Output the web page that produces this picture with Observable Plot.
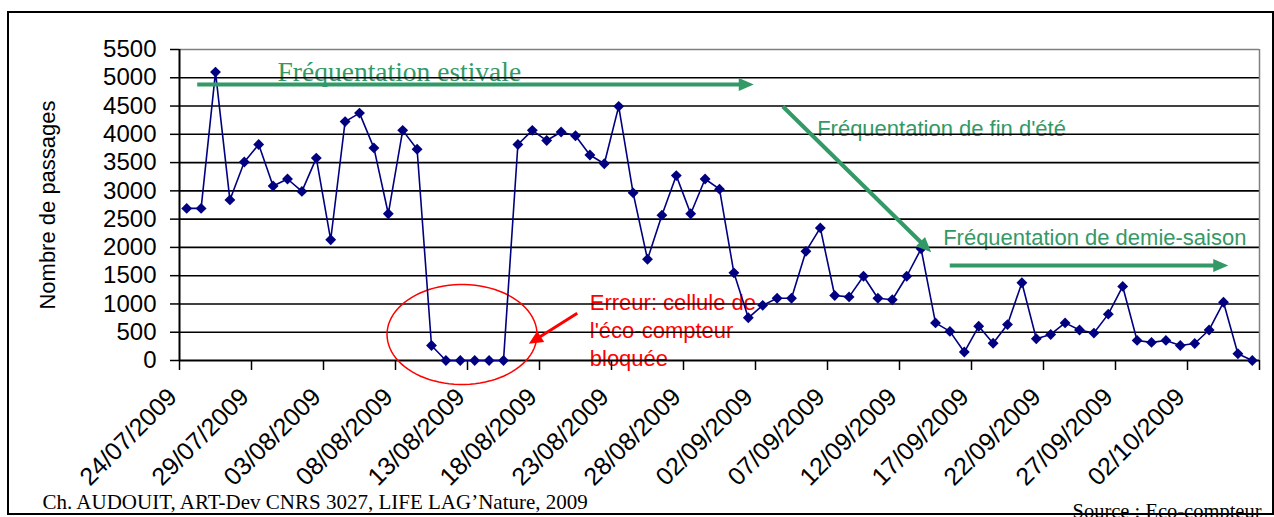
<!DOCTYPE html>
<html><head><meta charset="utf-8">
<script src="https://cdn.jsdelivr.net/npm/d3@7"></script>
<script src="https://cdn.jsdelivr.net/npm/@observablehq/plot@0.6"></script>
<style>
html,body{margin:0;padding:0;background:#fff;}
#wrap{position:relative;width:1274px;height:517px;overflow:hidden;background:#fff;}
#border{position:absolute;left:7px;top:11px;width:1267px;height:504px;box-sizing:border-box;border:2px solid #000;pointer-events:none;}
</style></head><body>
<div id="wrap"><div id="chart"></div><div id="border"></div></div>
<script>
// Daily counts, 24/07/2009 -> 06/10/2009 (75 days)
const passages = [
  2690, 2690, 5100, 2840, 3510, 3820, 3085, 3210, 2990, 3580,
  2135, 4225, 4375, 3760, 2595, 4070, 3735, 265, 0, 0,
  0, 0, 0, 3820, 4070, 3890, 4040, 3975, 3635, 3480,
  4495, 2965, 1790, 2570, 3270, 2595, 3210, 3030, 1550, 755,
  975, 1100, 1100, 1930, 2345, 1150, 1125, 1490, 1100, 1075,
  1490, 1975, 665, 515, 150, 605, 305, 635, 1375, 385,
  460, 665, 540, 485, 820, 1310, 355, 320, 355, 265,
  300, 540, 1030, 120, 0
];
const dateLabels = ["24/07/2009","29/07/2009","03/08/2009","08/08/2009","13/08/2009","18/08/2009","23/08/2009","28/08/2009","02/09/2009","07/09/2009","12/09/2009","17/09/2009","22/09/2009","27/09/2009","02/10/2009"];
const xTickPos = [-0.5, 4.5, 9.5, 14.5, 19.5, 24.5, 29.5, 34.5, 39.5, 44.5, 49.5, 54.5, 59.5, 64.5, 69.5, 74.5];
const yTicks = [0, 500, 1000, 1500, 2000, 2500, 3000, 3500, 4000, 4500, 5000, 5500];
const gridLines = [500, 1000, 1500, 2000, 2500, 3000, 3500, 4000, 4500, 5000];

// Annotations (in data coordinates: x = day index, y = passages)
const greenArrows = [
  {x1: 0.73, y1: 4881, xs: 38.69, ys: 4881, x2: 39.38, y2: 4881, angle: 0},
  {x1: 41.4, y1: 4492, xs: 51.2, ys: 2039, x2: 51.7, y2: 1915, angle: 44.5},
  {x1: 52.99, y1: 1680, xs: 71.64, ys: 1680, x2: 72.33, y2: 1680, angle: 0}
];
const redArrow = [{x1: 27.12, y1: 836, xs: 24.29, ys: 379, x2: 23.76, y2: 295, angle: 148}];
const errorZone = [{x: 19.12, y: 460}];
const serifNote = [{x: 6.31, y: 5095, text: "Fréquentation estivale"}];
const greenNotes = [
  {x: 43.78, y: 4103, text: "Fréquentation de fin d'été"},
  {x: 52.53, y: 2175, text: "Fréquentation de demie-saison"}
];
const errorNotes = [
  {x: 27.99, y: 1020, text: "Erreur: cellule de"},
  {x: 27.99, y: 531, text: "l'éco-compteur"},
  {x: 27.99, y: 35, text: "bloquée"}
];

const green = "#339966", red = "#ff0000", navy = "#000080";
const head = (L, W) => ({draw(ctx) { ctx.moveTo(0, 0); ctx.lineTo(-L, -W / 2); ctx.lineTo(-L, W / 2); ctx.closePath(); }});
const ellipse = (rx, ry) => ({draw(ctx) {
  const n = 90;
  for (let k = 0; k <= n; k++) { const t = 2 * Math.PI * k / n; const px = rx * Math.cos(t), py = ry * Math.sin(t); if (k) ctx.lineTo(px, py); else ctx.moveTo(px, py); }
  ctx.closePath();
}});
const sans = "'Liberation Sans', Arial, sans-serif";
const serif = "'Liberation Serif', 'Times New Roman', serif";

const chart = Plot.plot({
  width: 1274, height: 517,
  marginLeft: 179, marginRight: 15, marginTop: 49, marginBottom: 157,
  x: {type: "linear", domain: [-0.5, 74.5]},
  y: {domain: [0, 5500]},
  style: {fontFamily: sans, background: "transparent", color: "#000", overflow: "visible"},
  marks: [
    Plot.text(serifNote, {x: "x", y: "y", text: "text", textAnchor: "start", lineAnchor: "middle", fontFamily: serif, fontSize: 27.5, fill: green}),
    Plot.text(greenNotes, {x: "x", y: "y", text: "text", textAnchor: "start", lineAnchor: "middle", fontSize: 22, fill: green}),
    Plot.text(errorNotes, {x: "x", y: "y", text: "text", textAnchor: "start", lineAnchor: "middle", fontSize: 22, fill: red}),
    Plot.ruleY(gridLines, {stroke: "#000", strokeWidth: 1.6}),
    Plot.ruleY([5500], {stroke: "#808080", strokeWidth: 1.5}),
    Plot.ruleX([74.5], {stroke: "#808080", strokeWidth: 1.5}),
    Plot.ruleX([-0.5], {stroke: "#000", strokeWidth: 2}),
    Plot.ruleY([0], {stroke: "#000", strokeWidth: 2}),
    Plot.axisY({ticks: yTicks, tickSize: 9, tickPadding: 14, tickFormat: d => String(d), fontSize: 24, strokeWidth: 1.5, label: null}),
    Plot.axisX({ticks: xTickPos, tickSize: 10, tickFormat: () => "", strokeWidth: 1.5, label: null}),
    Plot.text(dateLabels, {x: (d, i) => xTickPos[i], y: () => 0, text: d => d, rotate: -45, textAnchor: "end", lineAnchor: "middle", fontSize: 25, dx: -6.7, dy: 32.3}),
    Plot.text(["Nombre de passages"], {frameAnchor: "left", text: d => d, rotate: -90, textAnchor: "middle", lineAnchor: "middle", fontSize: 22, dx: -132}),
    Plot.dot(errorZone, {x: "x", y: "y", symbol: ellipse(75, 50), fill: "none", stroke: red, strokeWidth: 1.5}),
    Plot.link(redArrow, {x1: "x1", y1: "y1", x2: "xs", y2: "ys", stroke: red, strokeWidth: 3}),
    Plot.dot(redArrow, {x: "x2", y: "y2", rotate: "angle", symbol: head(14, 13), fill: red, stroke: "none"}),
    Plot.line(passages, {x: (d, i) => i, y: d => d, stroke: navy, strokeWidth: 1.6}),
    Plot.dot(passages, {x: (d, i) => i, y: d => d, symbol: "diamond2", r: 4.9, fill: navy, stroke: "none"}),
    Plot.link(greenArrows, {x1: "x1", y1: "y1", x2: "xs", y2: "ys", stroke: green, strokeWidth: 4}),
    Plot.dot(greenArrows, {x: "x2", y: "y2", rotate: "angle", symbol: head(15, 13), fill: green, stroke: "none"}),
    Plot.text(["Ch. AUDOUIT, ART-Dev CNRS 3027, LIFE LAG\u2019Nature, 2009"], {frameAnchor: "bottom-left", text: d => d, textAnchor: "start", lineAnchor: "middle", fontFamily: serif, fontSize: 21, dx: -137, dy: 141.3}),
    Plot.text(["Source : Eco-compteur"], {frameAnchor: "bottom-right", text: d => d, textAnchor: "end", lineAnchor: "middle", fontFamily: serif, fontSize: 20.5, dx: 2, dy: 150.5})
  ]
});
document.getElementById("chart").appendChild(chart);
</script>
</body></html>
